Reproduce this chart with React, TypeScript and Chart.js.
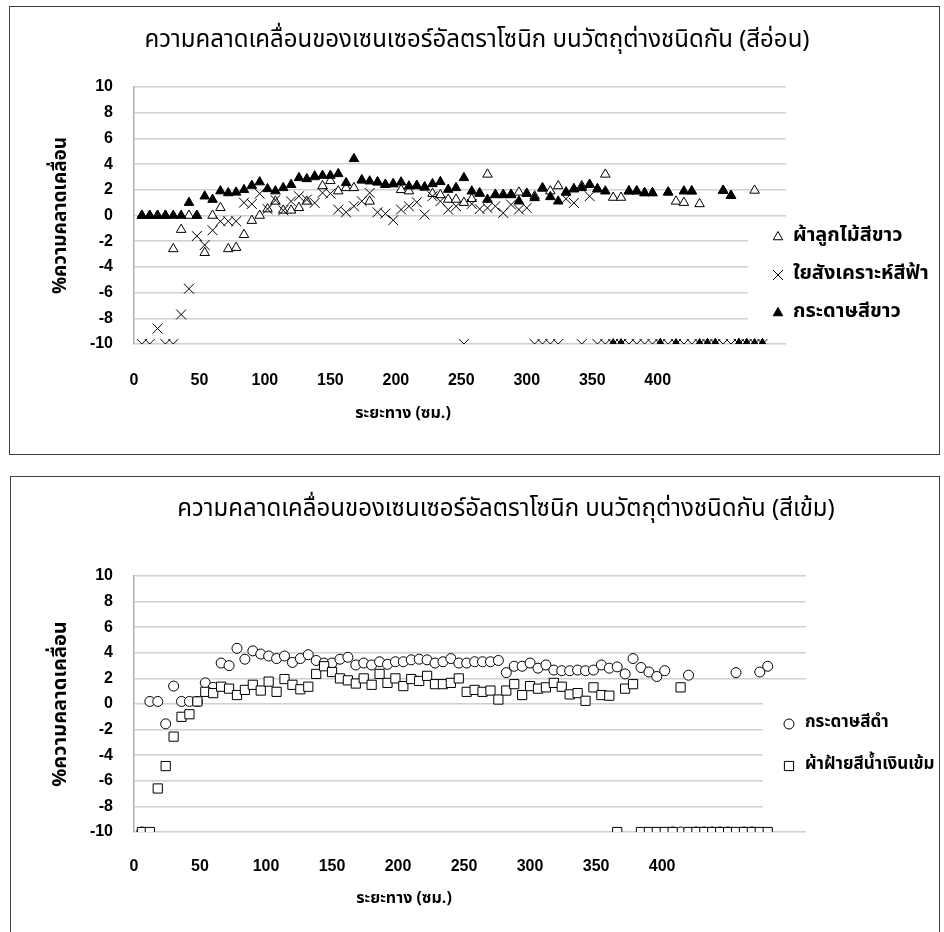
import React, { useEffect, useRef } from "react";
import { Chart, registerables } from "chart.js";

Chart.register(...registerables);

// ---------------- DATA ----------------
const distanceCm = [
  6, 12, 18, 24, 30, 36, 42, 48, 54, 60, 66, 72, 78, 84, 90, 96, 102, 108, 114, 120,
  126, 132, 138, 144, 150, 156, 162, 168, 174, 180, 186, 192, 198, 204, 210, 216, 222, 228, 234, 240,
  246, 252, 258, 264, 270, 276, 282, 288, 294, 300, 306, 312, 318, 324, 330, 336, 342, 348, 354, 360,
  366, 372, 378, 384, 390, 396, 402, 408, 414, 420, 426, 432, 438, 444, 450, 456, 462, 468, 474, 480,
];

const xTickLabels = [0, 50, 100, 150, 200, 250, 300, 350, 400];
const yTickLabels = [10, 8, 6, 4, 2, 0, -2, -4, -6, -8, -10];

// light colours chart
const laceWhite = [
  0, 0, 0, 0, -2.6, -1.1, 0, 0, -2.9, 0,
  0.6, -2.6, -2.5, -1.5, -0.4, 0, 0.5, 1.1, 0.4, 0.4,
  0.6, 1.1, 3.0, 2.3, 2.7, 1.9, 2.15, 2.15, 2.75, 1.1,
  2.6, 2.4, 2.45, 2.0, 1.9, 2.3, 2.2, 1.7, 1.6, 1.25,
  1.25, 1.0, 1.3, 1.75, 3.2, 1.6, 1.6, 1.6, 1.8, 1.7,
  1.5, 2.1, 1.9, 2.3, 1.8, 2.05, 2.3, 2.4, 2.05, 3.2,
  1.4, 1.4, 1.9, 1.9, 1.75, 1.75, -10, 1.8, 1.1, 1.0,
  1.9, 0.9, -10, -10, 1.95, 1.55, -10, -10, 1.95, -10,
];
const synthBlue = [
  -10, -10, -8.8, -10, -10, -7.7, -5.7, -1.6, -2.3, -1.15,
  -0.45, -0.45, -0.45, 1.0, 0.9, 1.7, 0.5, 1.2, 0.4, 1.1,
  1.5, 1.24, 0.98, 1.76, 1.71, 0.46, 0.25, 0.72, 1.11, 1.76,
  0.25, 0.15, -0.37, 0.46, 0.72, 1.03, 0.07, 1.5, 1.11, 0.46,
  0.72, -10, 0.9, 0.5, 0.59, 0.72, 0.2, 0.85, 0.46, 0.59,
  -10, -10, -10, -10, 1.3, 0.98, -10, 1.5, -10, -10,
  -10, -10, -10, -10, -10, -10, -10, -10, -10, -10,
  -10, -10, -10, -10, -10, -10, -10, -10, -10, -10,
];
const paperWhite = [
  0, 0, 0, 0, 0, 0, 1.0, 0, 1.5, 1.24,
  1.9, 1.75, 1.8, 2.0, 2.33, 2.6, 2.07, 1.9, 2.15, 2.4,
  2.93, 2.85, 3.06, 3.11, 3.11, 3.24, 2.54, 4.41, 2.75, 2.67,
  2.59, 2.41, 2.46, 2.59, 2.28, 2.33, 2.2, 2.46, 2.62, 2.02,
  2.15, 2.93, 1.89, 1.71, 1.24, 1.63, 1.63, 1.63, 1.11, 1.71,
  1.37, 2.15, 1.45, 1.11, 1.81, 2.07, 2.15, 2.41, 2.07, 1.89,
  -10, -10, 1.89, 1.89, 1.76, 1.76, -10, 1.81, -10, 1.89,
  1.89, -10, -10, -10, 1.94, 1.55, -10, -10, -10, -10,
];

// dark colours chart
const paperBlack = [
  -10, 0.2, 0.2, -1.55, 1.4, 0.2, 0.2, 0.2, 1.65, 1.3,
  3.2, 3.0, 4.35, 3.5, 4.15, 3.9, 3.75, 3.55, 3.75, 3.25,
  3.55, 3.85, 3.4, 3.2, 3.2, 3.5, 3.65, 3.05, 3.2, 3.05,
  3.3, 3.1, 3.3, 3.3, 3.45, 3.5, 3.45, 3.2, 3.3, 3.55,
  3.2, 3.2, 3.3, 3.3, 3.3, 3.4, 2.45, 2.95, 2.95, 3.2,
  2.8, 3.05, 2.65, 2.6, 2.6, 2.65, 2.6, 2.65, 3.05, 2.8,
  2.9, 2.35, 3.55, 2.85, 2.5, 2.15, 2.6, -10, -10, 2.25,
  -10, -10, -10, -10, -10, 2.45, -10, -10, 2.5, 2.95,
];
const cottonNavy = [
  -10, -10, -6.6, -4.85, -2.55, -1.0, -0.8, 0.2, 0.95, 0.85,
  1.35, 1.2, 0.7, 1.1, 1.5, 1.05, 1.75, 0.95, 1.95, 1.5,
  1.15, 1.35, 2.35, 2.95, 2.5, 2.0, 1.85, 1.6, 2.0, 1.5,
  2.35, 1.65, 2.0, 1.4, 1.95, 1.8, 2.2, 1.55, 1.55, 1.65,
  2.0, 0.95, 1.1, 0.95, 1.05, 0.35, 1.05, 1.55, 0.7, 1.4,
  1.2, 1.3, 1.65, 1.35, 0.75, 0.85, 0.25, 1.3, 0.7, 0.65,
  -10, 1.2, 1.55, -10, -10, -10, -10, -10, 1.3, -10,
  -10, -10, -10, -10, -10, -10, -10, -10, -10, -10,
];

// ---------------- STYLE ----------------
const THAI = '"Noto Sans Thai", "Noto Sans Thai UI", "Noto Sans", "DejaVu Sans", sans-serif';
const NUM = '"Liberation Sans Narrow", "Liberation Sans", Arial, sans-serif';

type MarkerStyle = "triangle" | "crossRot" | "circle" | "rect";
type SeriesDef = {
  label: string;
  values: number[];
  style: MarkerStyle;
  fill: string;
  radius: number;
  order: number;
};

type PanelDef = {
  boxLeft: number;
  boxTop: number;
  boxWidth: number;
  boxHeight: number;
  canvasW: number;
  canvasH: number;
  xMax: number;
  area: { l: number; t: number; r: number; b: number };
  title: string;
  titleX: number;
  titleY: number;
  titleSize: number;
  yTitleX: number;
  yTitleSize: number;
  yTickRight: number;
  xTickY: number;
  xTitleX: number;
  xTitleY: number;
  xTitleSize: number;
  legendRect: { x: number; y: number; w: number; h: number };
  legendItems: { mx: number; my: number; tx: number }[];
  legendSize: number;
  series: SeriesDef[];
};

function drawMarker(ctx: CanvasRenderingContext2D, style: MarkerStyle, x: number, y: number, r: number, fill: string) {
  ctx.save();
  ctx.beginPath();
  ctx.lineWidth = 1;
  ctx.strokeStyle = "#000";
  ctx.fillStyle = fill;
  if (style === "triangle") {
    let rad = 0;
    ctx.moveTo(x + Math.sin(rad) * r, y - Math.cos(rad) * r);
    rad += (2 * Math.PI) / 3;
    ctx.lineTo(x + Math.sin(rad) * r, y - Math.cos(rad) * r);
    rad += (2 * Math.PI) / 3;
    ctx.lineTo(x + Math.sin(rad) * r, y - Math.cos(rad) * r);
    ctx.closePath();
    ctx.fill();
    ctx.stroke();
  } else if (style === "circle") {
    ctx.arc(x, y, r, 0, Math.PI * 2);
    ctx.fill();
    ctx.stroke();
  } else if (style === "rect") {
    const s = Math.SQRT1_2 * r;
    ctx.rect(x - s, y - s, 2 * s, 2 * s);
    ctx.fill();
    ctx.stroke();
  } else {
    const d = Math.SQRT1_2 * r;
    ctx.moveTo(x - d, y - d);
    ctx.lineTo(x + d, y + d);
    ctx.moveTo(x + d, y - d);
    ctx.lineTo(x - d, y + d);
    ctx.stroke();
  }
  ctx.restore();
}

function ChartPanel({ def }: { def: PanelDef }) {
  const ref = useRef<HTMLCanvasElement | null>(null);

  useEffect(() => {
    const canvas = ref.current;
    if (!canvas) return;

    const overlay = {
      id: "overlayText",
      afterDraw(chart: any) {
        const ctx: CanvasRenderingContext2D = chart.ctx;
        ctx.save();
        ctx.fillStyle = "#000";
        ctx.textAlign = "center";
        ctx.textBaseline = "middle";
        // chart title
        ctx.font = `${def.titleSize}px ${THAI}`;
        ctx.fillText(def.title, def.titleX, def.titleY);
        // x axis title
        ctx.font = `bold ${def.xTitleSize}px ${THAI}`;
        ctx.fillText("ระยะทาง (ซม.)", def.xTitleX, def.xTitleY);
        // legend
        const lr = def.legendRect;
        ctx.fillStyle = "#fff";
        ctx.fillRect(lr.x, lr.y, lr.w, lr.h);
        def.series.forEach((s, i) => {
          const it = def.legendItems[i];
          drawMarker(ctx, s.style, it.mx, it.my, s.radius, s.fill);
          ctx.fillStyle = "#000";
          ctx.font = `bold ${def.legendSize}px ${THAI}`;
          ctx.textAlign = "left";
          ctx.textBaseline = "middle";
          ctx.fillText(s.label, it.tx, it.my);
        });
        ctx.restore();
      },
    };

    const chart = new Chart(canvas, {
      type: "scatter",
      data: {
        datasets: def.series.map((s) => ({
          label: s.label,
          data: distanceCm.map((x, i) => ({ x, y: s.values[i] })),
          pointStyle: s.style,
          pointRadius: s.radius,
          pointHoverRadius: s.radius,
          pointBackgroundColor: s.fill,
          pointBorderColor: "#000",
          pointBorderWidth: 1,
          showLine: false,
          order: s.order,
        })),
      },
      options: {
        animation: false,
        responsive: false,
        devicePixelRatio: 1,
        layout: {
          padding: {
            left: 0,
            top: def.area.t,
            right: def.canvasW - def.area.r,
            bottom: 0,
          },
        },
        plugins: {
          legend: { display: false },
          title: { display: false },
          tooltip: { enabled: false },
        },
        scales: {
          x: {
            type: "linear",
            min: 0,
            max: def.xMax,
            afterFit: (scale: any) => {
              scale.height = def.canvasH - def.area.b;
            },
            afterBuildTicks: (scale: any) => {
              scale.ticks = xTickLabels.map((v) => ({ value: v }));
            },
            grid: { display: false, drawTicks: false },
            border: { display: false },
            ticks: {
              padding: def.xTickY - def.area.b - 9.6,
              color: "#000",
              font: { family: NUM, size: 16, weight: "bold" },
              maxRotation: 0,
              autoSkip: false,
            },
            title: { display: false },
          },
          y: {
            type: "linear",
            min: -10,
            max: 10,
            afterFit: (scale: any) => {
              scale.width = def.area.l;
            },
            afterBuildTicks: (scale: any) => {
              scale.ticks = yTickLabels.map((v) => ({ value: v }));
            },
            grid: { color: "#d0d0d0", lineWidth: 1.5, drawTicks: false },
            border: { display: true, color: "#b0b0b0", width: 1.5 },
            ticks: {
              padding: def.area.l - def.yTickRight,
              color: "#000",
              font: { family: NUM, size: 16, weight: "bold" },
              autoSkip: false,
            },
            title: {
              display: true,
              text: "%ความคลาดเคลื่อน",
              color: "#000",
              font: { family: THAI, size: def.yTitleSize, weight: "bold" },
              padding: { top: def.yTitleX - def.yTitleSize * 0.6, bottom: 0 },
            },
          },
        },
      },
      plugins: [overlay],
    });
    return () => chart.destroy();
  }, [def]);

  return (
    <div
      style={{
        position: "absolute",
        left: def.boxLeft,
        top: def.boxTop,
        width: def.boxWidth,
        height: def.boxHeight,
        border: "1px solid #404040",
        boxSizing: "border-box",
        background: "#fff",
      }}
    >
      <canvas ref={ref} width={def.canvasW} height={def.canvasH} style={{ display: "block", width: def.canvasW, height: def.canvasH }} />
    </div>
  );
}

const topPanel: PanelDef = {
  boxLeft: 9,
  boxTop: 6,
  boxWidth: 931,
  boxHeight: 449,
  canvasW: 929,
  canvasH: 447,
  xMax: 498,
  area: { l: 124, t: 80, r: 776, b: 337 },
  title: "ความคลาดเคลื่อนของเซนเซอร์อัลตราโซนิก บนวัตถุต่างชนิดกัน (สีอ่อน)",
  titleX: 467,
  titleY: 35,
  titleSize: 24,
  yTitleX: 52,
  yTitleSize: 19,
  yTickRight: 103,
  xTickY: 374,
  xTitleX: 393,
  xTitleY: 408,
  xTitleSize: 16,
  legendRect: { x: 738, y: 213, w: 191, h: 115 },
  legendItems: [
    { mx: 768, my: 230, tx: 783 },
    { mx: 768, my: 268, tx: 783 },
    { mx: 768, my: 306, tx: 783 },
  ],
  legendSize: 20,
  series: [
    { label: "ผ้าลูกไม้สีขาว", values: laceWhite, style: "triangle", fill: "#fff", radius: 5.5, order: 3 },
    { label: "ใยสังเคราะห์สีฟ้า", values: synthBlue, style: "crossRot", fill: "#000", radius: 7, order: 2 },
    { label: "กระดาษสีขาว", values: paperWhite, style: "triangle", fill: "#000", radius: 5.5, order: 1 },
  ],
};

const bottomPanel: PanelDef = {
  boxLeft: 10,
  boxTop: 476,
  boxWidth: 930,
  boxHeight: 460,
  canvasW: 928,
  canvasH: 458,
  xMax: 509,
  area: { l: 123, t: 99, r: 795, b: 355 },
  title: "ความคลาดเคลื่อนของเซนเซอร์อัลตราโซนิก บนวัตถุต่างชนิดกัน (สีเข้ม)",
  titleX: 495,
  titleY: 34,
  titleSize: 24,
  yTitleX: 51,
  yTitleSize: 20,
  yTickRight: 102,
  xTickY: 390,
  xTitleX: 393,
  xTitleY: 423,
  xTitleSize: 16,
  legendRect: { x: 752, y: 213, w: 176, h: 125 },
  legendItems: [
    { mx: 778, my: 247, tx: 794 },
    { mx: 778, my: 289, tx: 794 },
  ],
  legendSize: 17,
  series: [
    { label: "กระดาษสีดำ", values: paperBlack, style: "circle", fill: "#fff", radius: 5, order: 2 },
    { label: "ผ้าฝ้ายสีน้ำเงินเข้ม", values: cottonNavy, style: "rect", fill: "#fff", radius: 6.5, order: 1 },
  ],
};

export default function App() {
  return (
    <div style={{ position: "absolute", left: 0, top: 0, width: 944, height: 932, overflow: "hidden", background: "#fff" }}>
      <ChartPanel def={topPanel} />
      <ChartPanel def={bottomPanel} />
    </div>
  );
}
